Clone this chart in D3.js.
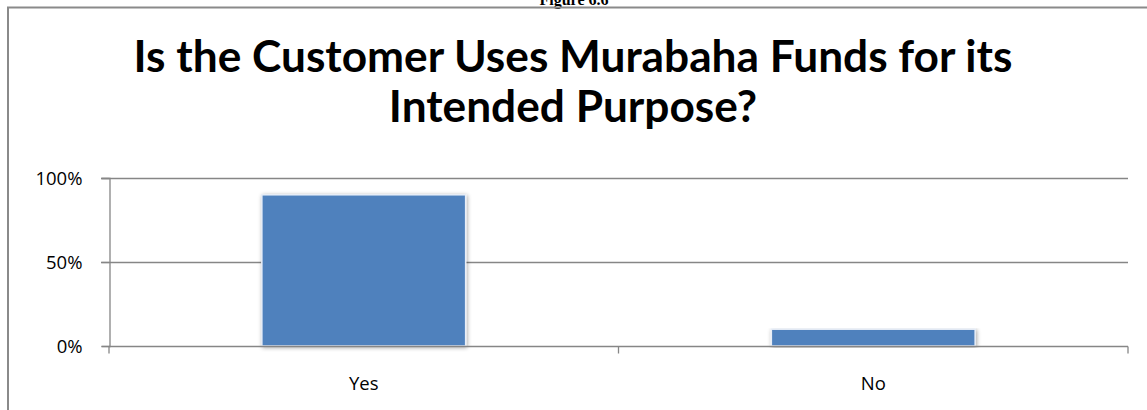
<!DOCTYPE html>
<html><head><meta charset="utf-8">
<script src="https://cdn.jsdelivr.net/npm/d3@7"></script>
<style>html,body{margin:0;padding:0;background:#fff;overflow:hidden}</style>
</head><body>
<svg id="c" width="1147" height="410"></svg>
<script>
const categories = ["Yes", "No"];
const values = [0.90, 0.10];
const yTicks = [0, 0.5, 1];
const titleLines = ["Is the Customer Uses Murabaha Funds for its", "Intended Purpose?"];
const figureLabel = "Figure 6.6";

const svg = d3.select("#c");
const W = 1147, H = 410;
const m = {left: 109, right: 1128, top: 178, bottom: 346};

// Figure caption (cut off at top, as in the source page)
svg.append("text").attr("x", 574).attr("y", 5).attr("text-anchor", "middle")
  .attr("font-family", "Liberation Serif, Times New Roman, serif").attr("font-weight", "bold")
  .attr("font-size", 16).text(figureLabel);

// chart frame
svg.append("line").attr("x1", 7).attr("x2", W).attr("y1", 7.5).attr("y2", 7.5)
  .attr("stroke", "#8a8a8a").attr("stroke-width", 2);
svg.append("line").attr("x1", 8).attr("x2", 8).attr("y1", 7).attr("y2", H)
  .attr("stroke", "#8a8a8a").attr("stroke-width", 2);

// title
const tY = [72, 122];
let fs = 44;
titleLines.forEach((t, i) => {
  const el = svg.append("text").attr("x", 573).attr("y", tY[i]).attr("text-anchor", "middle")
    .attr("font-family", "Lato, Open Sans, sans-serif").attr("font-weight", "bold")
    .attr("font-size", fs).attr("fill", "#000").text(t);
  if (i === 0) {
    const len = el.node().getComputedTextLength();
    fs = 44 * 879 / len;
    el.attr("font-size", fs);
  }
});

const x = d3.scaleBand().domain(categories).range([m.left, m.right]).paddingInner(0.6).paddingOuter(0.3);
const y = d3.scaleLinear().domain([0, 1]).range([m.bottom, m.top]);

// gridlines
svg.append("g").selectAll("line").data(yTicks.filter(d => d > 0)).join("line")
  .attr("x1", m.left - 8).attr("x2", m.right).attr("y1", d => y(d) + 0.5).attr("y2", d => y(d) + 0.5)
  .attr("stroke", "#868686").attr("stroke-width", 1.3);

// bars with shadow
const defs = svg.append("defs");
const f = defs.append("filter").attr("id", "sh").attr("x", "-10%").attr("y", "-10%").attr("width", "120%").attr("height", "120%");
f.append("feGaussianBlur").attr("in", "SourceAlpha").attr("stdDeviation", 2).attr("result", "b");
f.append("feOffset").attr("in", "b").attr("dx", 1).attr("dy", 1).attr("result", "o");
f.append("feComponentTransfer").attr("in", "o").attr("result", "oa")
  .append("feFuncA").attr("type", "linear").attr("slope", 0.35);
const mg = f.append("feMerge");
mg.append("feMergeNode").attr("in", "oa");
mg.append("feMergeNode").attr("in", "SourceGraphic");

svg.append("g").selectAll("rect").data(categories).join("rect")
  .attr("x", d => x(d)).attr("width", x.bandwidth())
  .attr("y", (d, i) => y(values[i])).attr("height", (d, i) => y(0) - y(values[i]))
  .attr("fill", "#4f81bd").attr("stroke", "#e8eef7").attr("stroke-width", 1.5)
  .attr("filter", "url(#sh)");

// y axis
const ya = svg.append("g").attr("transform", `translate(${m.left + 0.5},0)`)
  .call(d3.axisLeft(y).tickValues(yTicks).tickFormat(d3.format(".0%")).tickSize(8).tickPadding(19));
ya.select(".domain").attr("stroke", "#868686").attr("stroke-width", 1.3);
ya.selectAll(".tick line").attr("stroke", "#868686").attr("stroke-width", 1.3);
ya.selectAll("text").attr("font-family", "Open Sans, sans-serif").attr("font-size", 18.5).attr("fill", "#000").attr("dy", "0.35em");

// x axis
const xa = svg.append("g").attr("transform", `translate(0,${m.bottom + 0.5})`)
  .call(d3.axisBottom(x).tickSize(0).tickPadding(30));
xa.select(".domain").attr("d", `M${m.left},0H${m.right}`).attr("stroke", "#868686").attr("stroke-width", 1.3);
xa.selectAll("text").attr("font-family", "Open Sans, sans-serif").attr("font-size", 18.5).attr("fill", "#000");
// category boundary ticks
const bounds = [m.left, (m.left + m.right) / 2, m.right];
xa.append("g").selectAll("line").data(bounds).join("line")
  .attr("x1", d => d).attr("x2", d => d).attr("y1", 0).attr("y2", 7)
  .attr("stroke", "#868686").attr("stroke-width", 1.3);
</script>
</body></html>
